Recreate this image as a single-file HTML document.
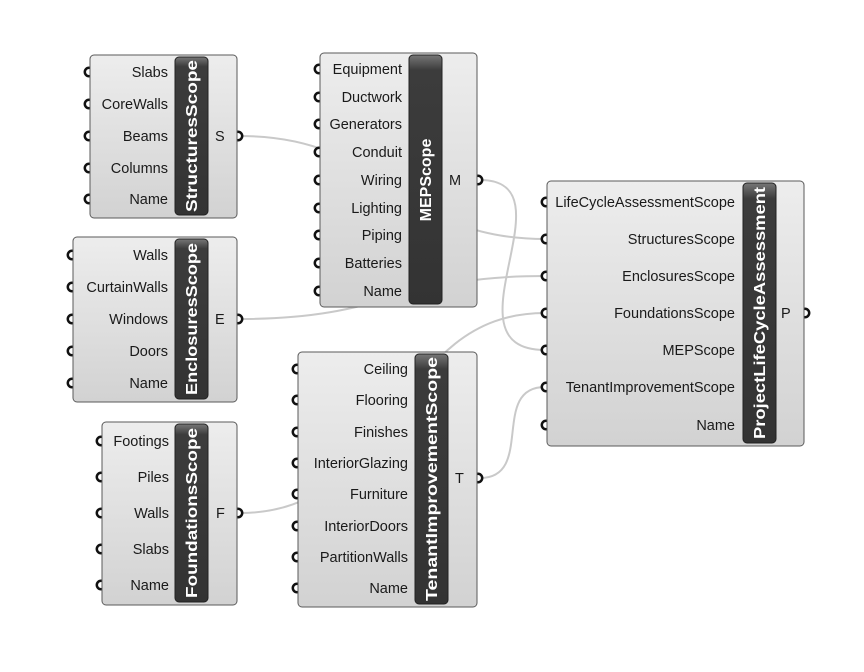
<!DOCTYPE html>
<html><head><meta charset="utf-8"><style>
html,body{margin:0;padding:0;background:#fff;}
svg{display:block;font-family:"Liberation Sans",sans-serif;}
.l{font-size:14.5px;fill:#1a1a1a;text-anchor:end;}
.o{font-size:14.5px;fill:#1a1a1a;}
.t{font-size:16px;font-weight:bold;fill:#fff;text-anchor:middle;}
.w{fill:none;stroke:#c9c9c9;stroke-width:2;}
.p{fill:#fff;stroke:#111;stroke-width:2.5;}
.b{fill:url(#g);stroke:#5a5a5a;stroke-width:1;}
.d{fill:url(#dg);stroke:#222;stroke-width:1;}
</style></head><body>
<svg width="864" height="672" viewBox="0 0 864 672">
<defs>
<linearGradient id="g" x1="0" y1="0" x2="0" y2="1"><stop offset="0" stop-color="#ededed"/><stop offset="1" stop-color="#d2d2d2"/></linearGradient>
<linearGradient id="dg" x1="0" y1="0" x2="0" y2="1"><stop offset="0" stop-color="#777"/><stop offset="0.06" stop-color="#3c3c3c"/><stop offset="1" stop-color="#333"/></linearGradient>
</defs>
<path class="w" d="M240,136 C390,136 395,239 545,239"/>
<path class="w" d="M240,319 C390,319 395,276 545,276"/>
<path class="w" d="M480,180 C575,180 440,350 545,350"/>
<path class="w" d="M240,513 C400,513 390,313 545,313"/>
<path class="w" d="M480,478 C535,478 490,387 545,387"/>

<g>
<circle class="p" cx="89" cy="72" r="4.2"/><circle class="p" cx="89" cy="104" r="4.2"/><circle class="p" cx="89" cy="136" r="4.2"/><circle class="p" cx="89" cy="168" r="4.2"/><circle class="p" cx="89" cy="199" r="4.2"/>
<circle class="p" cx="238" cy="136" r="4.2"/>
<rect class="b" x="90" y="55" width="147" height="163" rx="4"/>
<rect class="d" x="175" y="57" width="33" height="158" rx="4"/>
<text class="t" transform="translate(197,136) rotate(-90)" textLength="152" lengthAdjust="spacingAndGlyphs">StructuresScope</text>
<text class="l" x="168" y="77">Slabs</text><text class="l" x="168" y="109">CoreWalls</text><text class="l" x="168" y="141">Beams</text><text class="l" x="168" y="173">Columns</text><text class="l" x="168" y="204">Name</text>
<text class="o" x="215" y="141">S</text>
</g>
<g>
<circle class="p" cx="72" cy="255" r="4.2"/><circle class="p" cx="72" cy="287" r="4.2"/><circle class="p" cx="72" cy="319" r="4.2"/><circle class="p" cx="72" cy="351" r="4.2"/><circle class="p" cx="72" cy="383" r="4.2"/>
<circle class="p" cx="238" cy="319" r="4.2"/>
<rect class="b" x="73" y="237" width="164" height="165" rx="4"/>
<rect class="d" x="175" y="239" width="33" height="160" rx="4"/>
<text class="t" transform="translate(197,319) rotate(-90)" textLength="152" lengthAdjust="spacingAndGlyphs">EnclosuresScope</text>
<text class="l" x="168" y="260">Walls</text><text class="l" x="168" y="292">CurtainWalls</text><text class="l" x="168" y="324">Windows</text><text class="l" x="168" y="356">Doors</text><text class="l" x="168" y="388">Name</text>
<text class="o" x="215" y="324">E</text>
</g>
<g>
<circle class="p" cx="101" cy="441" r="4.2"/><circle class="p" cx="101" cy="477" r="4.2"/><circle class="p" cx="101" cy="513" r="4.2"/><circle class="p" cx="101" cy="549" r="4.2"/><circle class="p" cx="101" cy="585" r="4.2"/>
<circle class="p" cx="238" cy="513" r="4.2"/>
<rect class="b" x="102" y="422" width="135" height="183" rx="4"/>
<rect class="d" x="175" y="424" width="33" height="178" rx="4"/>
<text class="t" transform="translate(197,513) rotate(-90)" textLength="170" lengthAdjust="spacingAndGlyphs">FoundationsScope</text>
<text class="l" x="169" y="446">Footings</text><text class="l" x="169" y="482">Piles</text><text class="l" x="169" y="518">Walls</text><text class="l" x="169" y="554">Slabs</text><text class="l" x="169" y="590">Name</text>
<text class="o" x="216" y="518">F</text>
</g>
<g>
<circle class="p" cx="319" cy="69" r="4.2"/><circle class="p" cx="319" cy="97" r="4.2"/><circle class="p" cx="319" cy="124" r="4.2"/><circle class="p" cx="319" cy="152" r="4.2"/><circle class="p" cx="319" cy="180" r="4.2"/><circle class="p" cx="319" cy="208" r="4.2"/><circle class="p" cx="319" cy="235" r="4.2"/><circle class="p" cx="319" cy="263" r="4.2"/><circle class="p" cx="319" cy="291" r="4.2"/>
<circle class="p" cx="478" cy="180" r="4.2"/>
<rect class="b" x="320" y="53" width="157" height="254" rx="4"/>
<rect class="d" x="409" y="55" width="33" height="249" rx="4"/>
<text class="t" transform="translate(431,180) rotate(-90)">MEPScope</text>
<text class="l" x="402" y="74">Equipment</text><text class="l" x="402" y="102">Ductwork</text><text class="l" x="402" y="129">Generators</text><text class="l" x="402" y="157">Conduit</text><text class="l" x="402" y="185">Wiring</text><text class="l" x="402" y="213">Lighting</text><text class="l" x="402" y="240">Piping</text><text class="l" x="402" y="268">Batteries</text><text class="l" x="402" y="296">Name</text>
<text class="o" x="449" y="185">M</text>
</g>
<g>
<circle class="p" cx="297" cy="369" r="4.2"/><circle class="p" cx="297" cy="400" r="4.2"/><circle class="p" cx="297" cy="432" r="4.2"/><circle class="p" cx="297" cy="463" r="4.2"/><circle class="p" cx="297" cy="494" r="4.2"/><circle class="p" cx="297" cy="526" r="4.2"/><circle class="p" cx="297" cy="557" r="4.2"/><circle class="p" cx="297" cy="588" r="4.2"/>
<circle class="p" cx="478" cy="478" r="4.2"/>
<rect class="b" x="298" y="352" width="179" height="255" rx="4"/>
<rect class="d" x="415" y="354" width="33" height="250" rx="4"/>
<text class="t" transform="translate(437,479) rotate(-90)" textLength="244" lengthAdjust="spacingAndGlyphs">TenantImprovementScope</text>
<text class="l" x="408" y="374">Ceiling</text><text class="l" x="408" y="405">Flooring</text><text class="l" x="408" y="437">Finishes</text><text class="l" x="408" y="468">InteriorGlazing</text><text class="l" x="408" y="499">Furniture</text><text class="l" x="408" y="531">InteriorDoors</text><text class="l" x="408" y="562">PartitionWalls</text><text class="l" x="408" y="593">Name</text>
<text class="o" x="455" y="483">T</text>
</g>
<g>
<circle class="p" cx="546" cy="202" r="4.2"/><circle class="p" cx="546" cy="239" r="4.2"/><circle class="p" cx="546" cy="276" r="4.2"/><circle class="p" cx="546" cy="313" r="4.2"/><circle class="p" cx="546" cy="350" r="4.2"/><circle class="p" cx="546" cy="387" r="4.2"/><circle class="p" cx="546" cy="425" r="4.2"/>
<circle class="p" cx="805" cy="313" r="4.2"/>
<rect class="b" x="547" y="181" width="257" height="265" rx="4"/>
<rect class="d" x="743" y="183" width="33" height="260" rx="4"/>
<text class="t" transform="translate(765,313) rotate(-90)" textLength="252" lengthAdjust="spacingAndGlyphs">ProjectLifeCycleAssessment</text>
<text class="l" x="735" y="207">LifeCycleAssessmentScope</text><text class="l" x="735" y="244">StructuresScope</text><text class="l" x="735" y="281">EnclosuresScope</text><text class="l" x="735" y="318">FoundationsScope</text><text class="l" x="735" y="355">MEPScope</text><text class="l" x="735" y="392">TenantImprovementScope</text><text class="l" x="735" y="430">Name</text>
<text class="o" x="781" y="318">P</text>
</g>
</svg>
</body></html>
